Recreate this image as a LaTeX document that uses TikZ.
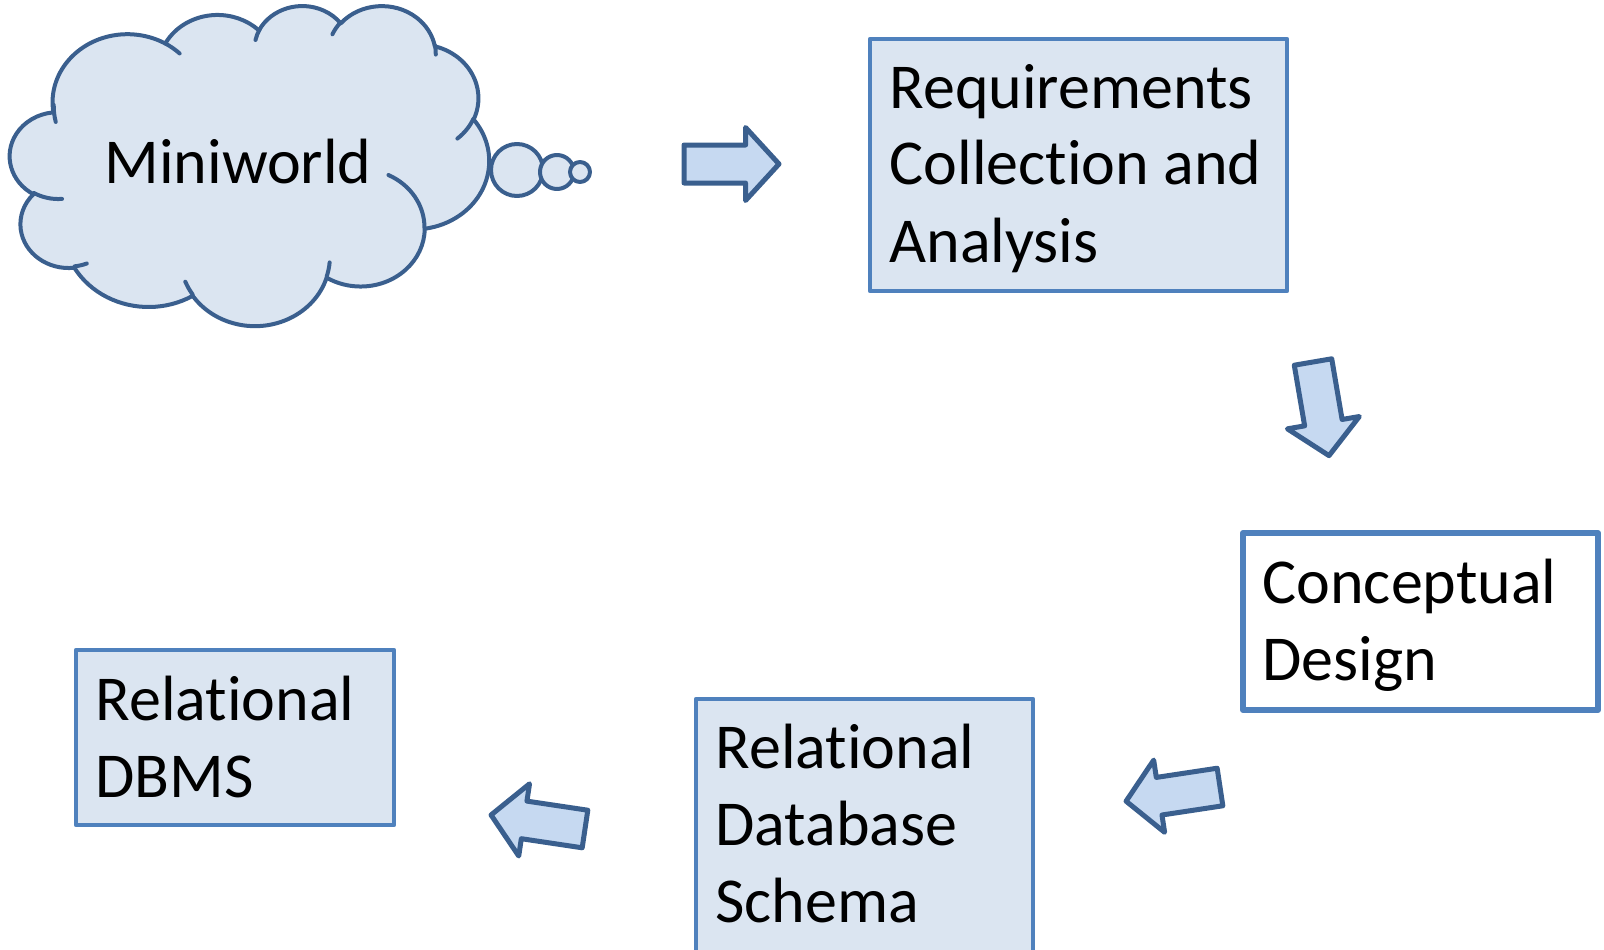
\documentclass[tikz,border=0pt]{standalone}
\usepackage{fontspec}
\setmainfont{Carlito}[Ligatures=NoCommon]
\usepackage{tikz}
\usetikzlibrary{shapes.arrows}
\definecolor{boxfill}{HTML}{DBE5F1}
\definecolor{boxline}{HTML}{4F81BD}
\definecolor{cloudfill}{HTML}{DBE5F1}
\definecolor{cloudline}{HTML}{3A5F8E}
\definecolor{arrowfill}{HTML}{C6D9F1}
\definecolor{arrowline}{HTML}{3A5F8E}
\newcommand\bigfont{\fontsize{64}{77}\selectfont}
% angles of an office style arc, turned into parametric ones
\newcommand\cloudangles[4]{%
  \pgfmathsetmacro\cloudtmpa{atan2((#1)*sin(#3),(#2)*cos(#3))}%
  \pgfmathsetmacro\cloudtmpb{atan2((#1)*sin((#3)+(#4)),(#2)*cos((#3)+(#4)))}%
  \pgfmathsetmacro\cloudtmpd{\cloudtmpb-\cloudtmpa}%
  \pgfmathsetmacro\cloudtmpd{\cloudtmpd-360*round((\cloudtmpd-(#4))/360)}%
  \global\let\cloudta\cloudtmpa
  \global\let\cloudtd\cloudtmpd}
\tikzset{
  cloud arc/.style n args={4}{insert path={\pgfextra{\cloudangles{#1}{#2}{#3}{#4}}
    arc[start angle=\cloudta, delta angle=\cloudtd, x radius=#1, y radius=#2]}},
  cloudshape/.style={draw=cloudline, fill=cloudfill, line width=4pt},
  cloudcrease/.style={draw=cloudline, line width=4pt},
  phase/.style={draw=boxline, fill=boxfill, line width=4.5pt, anchor=north west,
    inner xsep=19.5pt, inner ysep=0pt, outer sep=0pt, font=\bigfont},
  blockarrow/.style={single arrow, draw=arrowline, fill=arrowfill, line width=5pt,
    line join=round, minimum height=95pt, minimum width=68pt,
    single arrow head extend=17.5pt, single arrow tip angle=95,
    inner xsep=0pt, inner ysep=16.5pt, outer sep=0pt, anchor=tail}
}
\begin{document}
\begin{tikzpicture}[x=1pt,y=-1pt,line cap=round,line join=round]
\useasboundingbox (0,0) rectangle (1604,950);
\clip (0,0) rectangle (1604,950);
% cloud
\begin{scope}[shift={(10,5)},x=1.1088pt,y=-0.74074pt]
\draw[cloudshape] (39,143.7)
  [cloud arc={67.53}{91.90}{-190.48748}{123.78053}]
  [cloud arc={53.33}{72.67}{-144.10238}{89.94523}]
  [cloud arc={43.65}{59.45}{-145.80792}{99.72302}]
  [cloud arc={48.57}{65.95}{-130.98607}{117.24173}]
  [cloud arc={53.33}{72.73}{-78.70888}{109.02692}]
  [cloud arc={67.75}{92.20}{-46.26725}{130.26900}]
  [cloud arc={57.85}{78.67}{0.62502}{114.03333}]
  [cloud arc={67.52}{92.15}{22.45160}{115.17255}]
  [cloud arc={77.20}{105.43}{66.24263}{75.71102}]
  [cloud arc={43.60}{59.18}{-274.94208}{146.73557}]
  [cloud arc={43.45}{59.45}{-246.82850}{152.51885}] -- cycle;
\draw[cloudcrease]
  (46.93,261.77) [cloud arc={43.45}{59.45}{86.74200}{26.42950}]
  (69.28,348.99) [cloud arc={43.60}{59.18}{73.61047}{11.44747}]
  (164.78,390.90) [cloud arc={67.52}{92.15}{137.62415}{14.08110}]
  (288.27,347.51) [cloud arc={67.52}{92.15}{6.45327}{15.99835}]
  (341.29,229.54) [cloud arc={57.85}{78.67}{-70.29235}{70.91737}]
  (417.98,153.54) [cloud arc={53.33}{72.73}{30.31803}{27.75150}]
  (383.24,54.26) [cloud arc={48.57}{65.95}{-13.74433}{14.85890}]
  (290.78,39.52) [cloud arc={48.57}{65.95}{-149.18145}{18.19537}]
  (221.41,47.20) [cloud arc={43.65}{59.45}{-163.49427}{17.68635}]
  (140.00,51.92) [cloud arc={67.53}{91.90}{-66.70695}{12.31935}]
  (41.27,157.89) [cloud arc={67.53}{91.90}{162.03883}{19.41940}];
\end{scope}
\draw[cloudshape] (517,170) circle[radius=26];
\draw[cloudshape] (557,172) circle[radius=17];
\draw[cloudshape] (580,172) circle[radius=10];
\node[font=\bigfont, anchor=base] (miniworld) at (238,183) {Miniworld};
% boxes
\node[phase] (reqs) at (870,39)
  {\parbox[t][252pt][t]{378pt}{\rule{0pt}{69pt}Requirements\\Collection and\\Analysis}};
\node[phase, fill=white, line width=6pt] (concept) at (1243,533)
  {\parbox[t][177pt][t]{316pt}{\rule{0pt}{70pt}Conceptual\\Design}};
\node[phase] (schema) at (696,699)
  {\parbox[t][300pt][t]{298pt}{\rule{0pt}{69pt}Relational\\Database\\Schema}};
\node[phase] (dbms) at (76,650)
  {\parbox[t][175pt][t]{279pt}{\rule{0pt}{70pt}Relational\\DBMS}};
% arrows
\node[blockarrow] (toreqs) at (684,164) {};
\node[blockarrow, rotate=-80.3] (toconcept) at (1313,362) {};
\node[blockarrow, rotate=188.6] (toschema) at (1220,787) {};
\node[blockarrow, rotate=171.5] (todbms) at (585,829) {};
\end{tikzpicture}
\end{document}
